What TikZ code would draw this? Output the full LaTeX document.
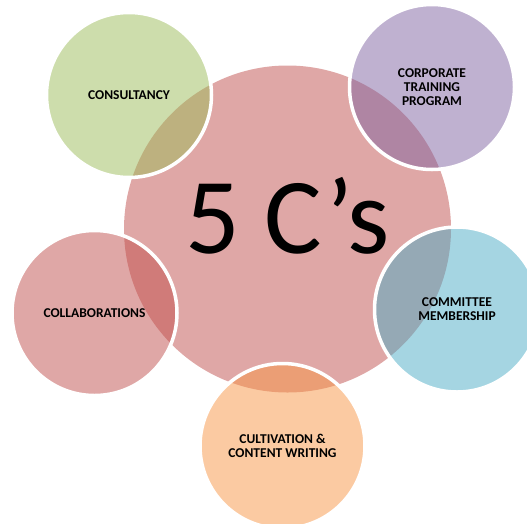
\documentclass[tikz,border=0pt]{standalone}
\usepackage{fontspec}
\setmainfont{Carlito}
\definecolor{cpink}{HTML}{C0504D}
\definecolor{cgreen}{HTML}{9BBB59}
\definecolor{cpurple}{HTML}{8064A2}
\definecolor{caqua}{HTML}{4BACC6}
\definecolor{corange}{HTML}{F79646}
\begin{document}
\begin{tikzpicture}[x=1pt,y=-1pt,
  bubble/.style={circle, minimum size=165pt, inner sep=0pt, fill opacity=0.5, text opacity=1,
    draw=white, line width=3.5pt, align=center, text=black,
    font=\bfseries\fontsize{13.5}{14}\selectfont},
  hub/.style={circle, minimum size=327pt, inner sep=0pt, fill=cpink, fill opacity=0.5}]
\useasboundingbox (0,0) rectangle (527,523);
\node[hub] (hub) at (287.5,229) {};
\node[anchor=base, font=\fontsize{108}{116}\selectfont] (title) at (287.5,253) {5 C’s};
\node[bubble, fill=cgreen] (consult) at (129,95) {CONSULTANCY};
\node[bubble, fill=cpurple] (corp) at (432,87) {CORPORATE\\TRAINING\\PROGRAM};
\node[bubble, fill=caqua] (comm) at (457,309.5) {COMMITTEE\\MEMBERSHIP};
\node[bubble, fill=cpink] (collab) at (94.5,313) {COLLABORATIONS};
\node[bubble, fill=corange] (cult) at (282.5,446) {CULTIVATION \&\\CONTENT WRITING};
\end{tikzpicture}
\end{document}
